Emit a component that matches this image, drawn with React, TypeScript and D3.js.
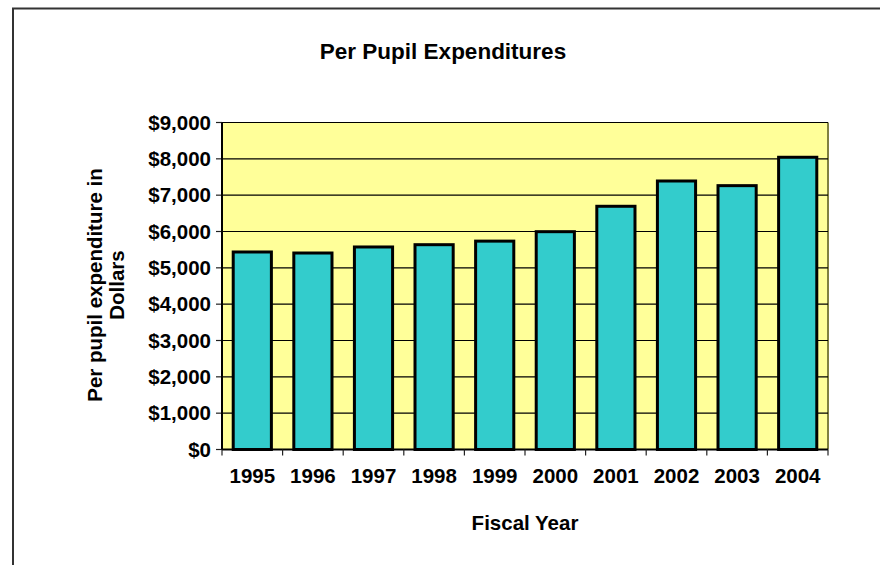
import React from "react";
import * as d3 from "d3";

const years = ["1995", "1996", "1997", "1998", "1999", "2000", "2001", "2002", "2003", "2004"];
const expenditures = [5436, 5408, 5574, 5637, 5735, 5995, 6694, 7390, 7262, 8043];
const yTicks = [0, 1000, 2000, 3000, 4000, 5000, 6000, 7000, 8000, 9000];

const W = 880;
const H = 565;
const plot = { left: 222, right: 828, top: 122.5, bottom: 449.5 };
const font = "'Liberation Sans', Arial, sans-serif";

export default function App() {
  const x = d3.scaleBand<string>().domain(years).range([plot.left, plot.right]).padding(0);
  const y = d3.scaleLinear().domain([0, 9000]).range([plot.bottom, plot.top]);
  const bw = x.bandwidth();
  const barW = bw * 0.63;
  const fmt = (v: number) => "$" + d3.format(",")(v);
  const boundaries = years.map((yr) => x(yr) as number).concat([plot.right]);

  return (
    <svg width={W} height={H} style={{ position: "absolute", left: 0, top: 0, background: "#fff" }}>
      <rect x={0} y={0} width={W} height={H} fill="#fff" />
      <rect x={13} y={8.5} width={W + 20} height={H + 20} fill="none" stroke="#333" strokeWidth={2} />
      <text x={443} y={59} textAnchor="middle" fontFamily={font} fontWeight="bold" fontSize={22.5}>
        Per Pupil Expenditures
      </text>
      <rect
        x={plot.left}
        y={plot.top}
        width={plot.right - plot.left}
        height={plot.bottom - plot.top}
        fill="#FFFF99"
      />
      <line x1={plot.right} x2={plot.right} y1={plot.top} y2={plot.bottom} stroke="#808040" strokeWidth={2} />
      {yTicks.map((t) => (
        <g key={t}>
          <line x1={plot.left} x2={plot.right} y1={y(t)} y2={y(t)} stroke="#000" strokeWidth={1.2} />
          <line x1={plot.left - 6} x2={plot.left} y1={y(t)} y2={y(t)} stroke="#222" strokeWidth={1.2} />
          <text
            x={211}
            y={y(t) + 7}
            textAnchor="end"
            fontFamily={font}
            fontWeight="bold"
            fontSize={20.5}
          >
            {fmt(t)}
          </text>
        </g>
      ))}
      {years.map((yr, i) => {
        const cx = (x(yr) as number) + bw / 2;
        return (
          <rect
            key={yr}
            x={cx - barW / 2}
            y={y(expenditures[i])}
            width={barW}
            height={plot.bottom - y(expenditures[i])}
            fill="#33CCCC"
            stroke="#000"
            strokeWidth={3}
          />
        );
      })}
      <line x1={plot.left} x2={plot.left} y1={plot.top} y2={plot.bottom} stroke="#000" strokeWidth={2} />
      <line x1={plot.left} x2={plot.right} y1={plot.bottom} y2={plot.bottom} stroke="#000" strokeWidth={2} />
      {boundaries.map((b, i) => (
        <line key={i} x1={b} x2={b} y1={plot.bottom} y2={plot.bottom + 6} stroke="#222" strokeWidth={1.2} />
      ))}
      {years.map((yr) => (
        <text
          key={yr}
          x={(x(yr) as number) + bw / 2}
          y={482.5}
          textAnchor="middle"
          fontFamily={font}
          fontWeight="bold"
          fontSize={20.5}
        >
          {yr}
        </text>
      ))}
      <text x={525} y={530} textAnchor="middle" fontFamily={font} fontWeight="bold" fontSize={20.5}>
        Fiscal Year
      </text>
      <text
        transform="translate(102,285) rotate(-90)"
        textAnchor="middle"
        fontFamily={font}
        fontWeight="bold"
        fontSize={20.5}
      >
        Per pupil expenditure in
      </text>
      <text
        transform="translate(124,285) rotate(-90)"
        textAnchor="middle"
        fontFamily={font}
        fontWeight="bold"
        fontSize={20.5}
      >
        Dollars
      </text>
    </svg>
  );
}
